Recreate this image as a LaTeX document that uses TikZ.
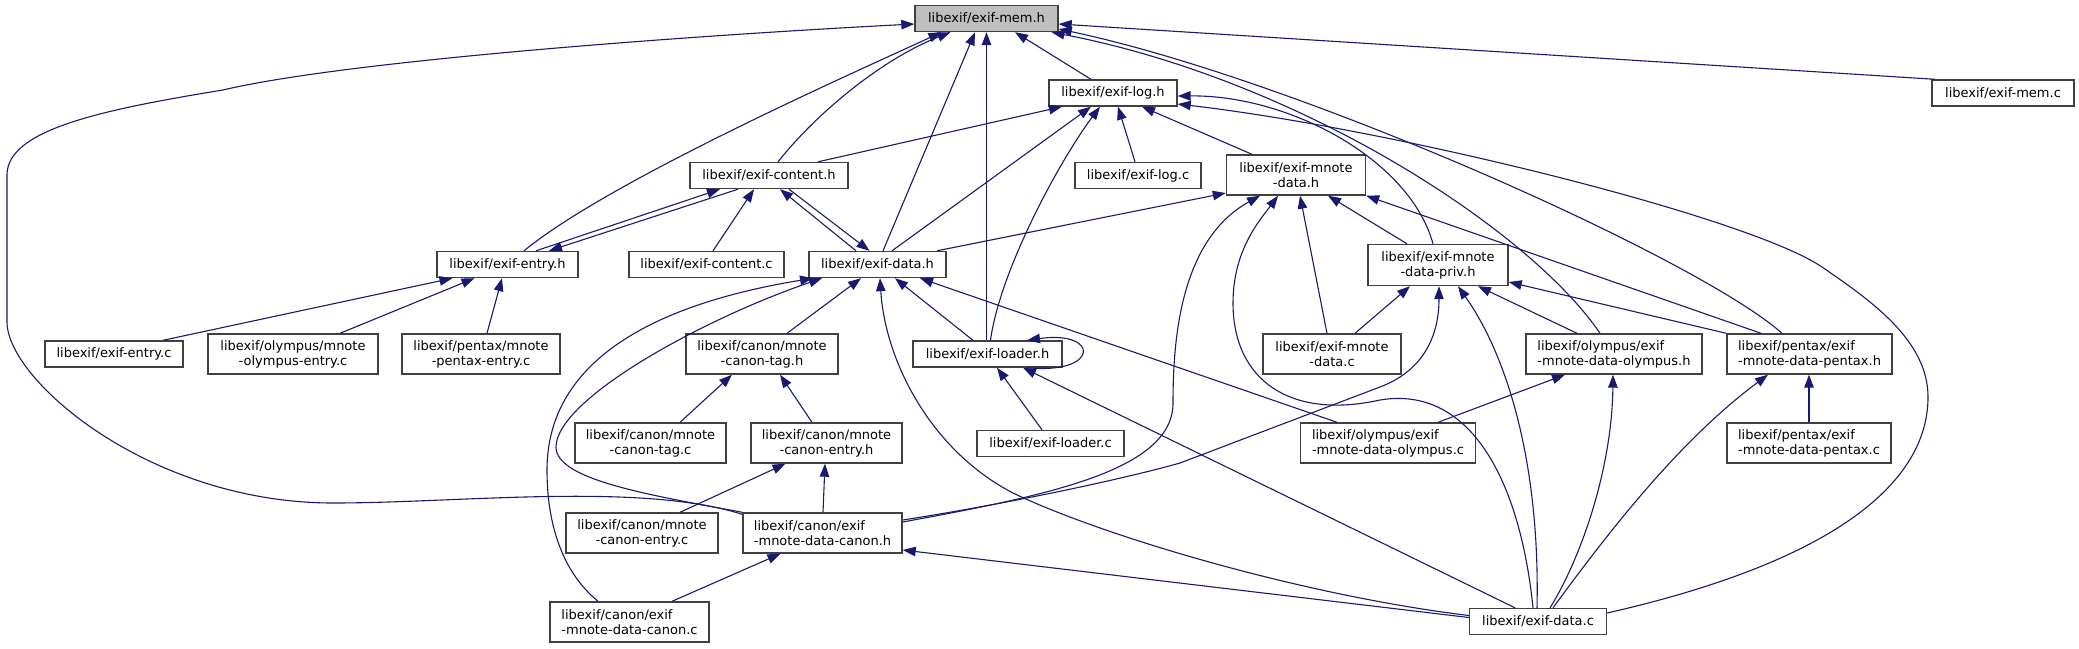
\documentclass[tikz,border=0pt]{standalone}
\usepackage{fontspec}
\setmainfont{DejaVu Sans}
\usetikzlibrary{arrows.meta}
\definecolor{edgeblue}{HTML}{191970}
\definecolor{boxgray}{HTML}{404040}
\definecolor{rootgray}{HTML}{BFBFBF}
\begin{document}
\begin{tikzpicture}[x=1pt,y=-1pt,
  box/.style={draw=boxgray, line width=1.4pt, fill=white, inner sep=0pt, align=center,
    font=\fontsize{13}{15}\selectfont},
  edge/.style={draw=edgeblue, line width=1.1pt, -{Triangle[length=13pt,width=9.5pt]}}]
\useasboundingbox[fill=white] (0,0) rectangle (2079,648);
% nodes
\node[box,fill=rootgray,minimum width=143pt,minimum height=26pt] (mem) at (986.5,18.5) {libexif/exif-mem.h};
\node[box,minimum width=128pt,minimum height=26pt] (log) at (1113,93) {libexif/exif-log.h};
\node[box,minimum width=142pt,minimum height=26pt] (memc) at (2003,93) {libexif/exif-mem.c};
\node[box,minimum width=158pt,minimum height=26pt] (content) at (769,175.5) {libexif/exif-content.h};
\node[box,minimum width=126pt,minimum height=26pt] (logc) at (1138,175.5) {libexif/exif-log.c};
\node[box,minimum width=139pt,minimum height=40pt] (mnote) at (1296,175) {libexif/exif-mnote\\-data.h};
\node[box,minimum width=141pt,minimum height=26pt] (entry) at (507.5,264.5) {libexif/exif-entry.h};
\node[box,minimum width=155pt,minimum height=26pt] (contentc) at (706.5,264.5) {libexif/exif-content.c};
\node[box,minimum width=137pt,minimum height=26pt] (datah) at (877.5,264.5) {libexif/exif-data.h};
\node[box,minimum width=140pt,minimum height=41pt] (priv) at (1438,265) {libexif/exif-mnote\\-data-priv.h};
\node[box,minimum width=138pt,minimum height=26pt] (entryc) at (114,354) {libexif/exif-entry.c};
\node[box,minimum width=170pt,minimum height=40pt] (olyentry) at (293,354) {libexif/olympus/mnote\\-olympus-entry.c};
\node[box,minimum width=158pt,minimum height=40pt] (pentaxentry) at (481,354) {libexif/pentax/mnote\\-pentax-entry.c};
\node[box,minimum width=152pt,minimum height=40pt] (canontagh) at (762,354) {libexif/canon/mnote\\-canon-tag.h};
\node[box,minimum width=149pt,minimum height=26pt] (loaderh) at (987.5,354) {libexif/exif-loader.h};
\node[box,minimum width=138pt,minimum height=40pt] (mnotec) at (1332,354) {libexif/exif-mnote\\-data.c};
\node[box,align=left,minimum width=176pt,minimum height=40pt] (olyh) at (1614,354) {libexif/olympus/exif\\-mnote-data-olympus.h};
\node[box,align=left,minimum width=165pt,minimum height=40pt] (pentaxh) at (1809.5,354) {libexif/pentax/exif\\-mnote-data-pentax.h};
\node[box,minimum width=151pt,minimum height=40pt] (canontagc) at (650.5,443) {libexif/canon/mnote\\-canon-tag.c};
\node[box,minimum width=151pt,minimum height=40pt] (canonentryh) at (826.5,443) {libexif/canon/mnote\\-canon-entry.h};
\node[box,minimum width=147pt,minimum height=26pt] (loaderc) at (1050.5,443.5) {libexif/exif-loader.c};
\node[box,align=left,minimum width=175pt,minimum height=40pt] (olyc) at (1388,443) {libexif/olympus/exif\\-mnote-data-olympus.c};
\node[box,align=left,minimum width=164pt,minimum height=40pt] (pentaxc) at (1809,443) {libexif/pentax/exif\\-mnote-data-pentax.c};
\node[box,minimum width=152pt,minimum height=40pt] (canonentryc) at (642,533) {libexif/canon/mnote\\-canon-entry.c};
\node[box,align=left,minimum width=159pt,minimum height=40pt] (canonh) at (822.5,533) {libexif/canon/exif\\-mnote-data-canon.h};
\node[box,align=left,minimum width=159pt,minimum height=40pt] (canonc) at (629.5,622) {libexif/canon/exif\\-mnote-data-canon.c};
\node[box,minimum width=137pt,minimum height=26pt] (datac) at (1538,621.5) {libexif/exif-data.c};
% edges into exif-mem.h
\draw[edge] ([xshift=16.5pt]entry.north) .. controls (610,180) and (860,70) .. ([xshift=-45pt]mem.south);
\draw[edge] ([xshift=9pt]content.north) .. controls (815,115) and (880,60) .. ([xshift=-36pt]mem.south);
\draw[edge] ([xshift=5.5pt]datah.north) -- ([xshift=-11.5pt]mem.south);
\draw[edge] ([xshift=-1pt]loaderh.north) -- (mem.south);
\draw[edge] ([xshift=-22pt]log.north) -- ([xshift=28.5pt]mem.south);
\draw[edge] ([xshift=-68pt]memc.north) -- ([yshift=-5.5pt]mem.east);
\draw[edge] ([xshift=-27.5pt]pentaxh.north) .. controls (1700,260) and (1300,80) .. ([yshift=-10.5pt]mem.east);
\draw[edge] ([xshift=-14pt]olyh.north) .. controls (1530,230) and (1300,80) .. ([xshift=65pt]mem.south);
\draw[edge] ([yshift=-2pt]canonh.north west) .. controls (640,482) and (460,503) .. (333,503)
  .. controls (150,503) and (7,380) .. (7,322) -- (7,175)
  .. controls (7,130) and (100,110) .. (223,90)
  .. controls (350,60) and (700,35) .. ([yshift=-5.5pt]mem.west);
% edges into exif-log.h
\draw[edge] ([xshift=49pt]content.north) -- ([xshift=-51pt]log.south);
\draw[edge] ([xshift=14.5pt]datah.north) -- ([xshift=-22pt]log.south);
\draw[edge] ([xshift=3pt]loaderh.north) .. controls (1000,270) and (1060,160) .. ([xshift=-13pt]log.south);
\draw[edge] ([xshift=-3pt]logc.north) -- ([xshift=5pt]log.south);
\draw[edge] ([xshift=-44pt]mnote.north) -- ([xshift=29pt]log.south);
\draw[edge] ([xshift=-5pt]priv.north) .. controls (1410,160) and (1290,95) .. ([yshift=-3pt]log.east);
\draw[edge] ([yshift=8.5pt]datac.east) .. controls (1840,560) and (1928,480) .. (1928,397)
  .. controls (1928,340) and (1870,300) .. (1822,267)
  .. controls (1750,218) and (1400,130) .. ([yshift=-11pt]log.east);
% edges into exif-content.h / exif-entry.h
\draw[edge] ([xshift=28.5pt]entry.north) -- ([xshift=-49pt]content.south);
\draw[edge] ([xshift=-31pt]content.south) -- ([xshift=41.5pt]entry.north);
\draw[edge] ([xshift=-21.5pt]datah.north) -- ([xshift=11pt]content.south);
\draw[edge] ([xshift=20pt]content.south) -- ([xshift=-8pt]datah.north);
\draw[edge] ([xshift=6.5pt]contentc.north) -- ([xshift=-15pt]content.south);
\draw[edge] ([xshift=49pt]entryc.north) -- ([xshift=-55pt]entry.south);
\draw[edge] ([xshift=47pt]olyentry.north) -- ([xshift=-33pt]entry.south);
\draw[edge] ([xshift=6pt]pentaxentry.north) -- ([xshift=-5.5pt]entry.south);
% edges into exif-data.h
\draw[edge] ([xshift=25pt]canontagh.north) -- ([xshift=-16.5pt]datah.south);
\draw[edge] ([xshift=-14.5pt]loaderh.north) -- ([xshift=17.5pt]datah.south);
\draw[edge] ([xshift=-51pt]olyc.north) -- ([xshift=42.5pt]datah.south);
\draw[edge] ([yshift=6pt]datac.west) .. controls (1300,595) and (1100,535) .. (1013,493)
  .. controls (930,450) and (885,360) .. ([xshift=2.5pt]datah.south);
\draw[edge] (canonh.north west) .. controls (650,495) and (556,480) .. (556,447)
  .. controls (556,400) and (700,320) .. ([xshift=-55.5pt]datah.south);
\draw[edge] ([xshift=-31.5pt]canonc.north) .. controls (560,570) and (547,520) .. (547,470)
  .. controls (547,380) and (620,310) .. ([xshift=-64.5pt]datah.south);
% edges into exif-mnote-data.h
\draw[edge] ([xshift=59.5pt]datah.north) -- ([yshift=-18pt]mnote.west);
\draw[edge] ([yshift=11pt]canonh.east) .. controls (1050,495) and (1173,470) .. (1173,403)
  .. controls (1173,340) and (1180,240) .. ([xshift=-36pt]mnote.south);
\draw[edge] ([xshift=-5pt]datac.north) .. controls (1520,480) and (1470,385) .. (1380,400)
  .. controls (1290,420) and (1233,380) .. (1233,303)
  .. controls (1233,250) and (1260,220) .. ([xshift=-18pt]mnote.south);
\draw[edge] ([xshift=-5pt]mnotec.north) -- ([xshift=4pt]mnote.south);
\draw[edge] ([xshift=-31pt]priv.north) -- ([xshift=32pt]mnote.south);
\draw[edge] ([xshift=-48.5pt]pentaxh.north) -- (mnote.south east);
% edges into exif-mnote-data-priv.h
\draw[edge] ([xshift=23pt]mnotec.north) -- ([xshift=-28pt]priv.south);
\draw[edge] ([yshift=13pt]canonh.east) .. controls (1000,505) and (1120,480) .. (1180,463)
  -- (1380,387) .. controls (1420,372) and (1439,340) .. ([xshift=1pt]priv.south);
\draw[edge] ([xshift=-1pt]datac.north) .. controls (1540,470) and (1510,360) .. ([xshift=20pt]priv.south);
\draw[edge] ([xshift=-37pt]olyh.north) -- ([xshift=40pt]priv.south);
\draw[edge] (pentaxh.north west) -- ([yshift=-17pt]priv.east);
% edges into exif-loader.h
\draw[edge] ([xshift=-8.5pt]loaderc.north) -- ([xshift=9.5pt]loaderh.south);
\draw[edge] ([xshift=-23pt]datac.north) -- ([xshift=35.5pt]loaderh.south);
\draw[edge] ([xshift=39.5pt]loaderh.south) .. controls (1100,375) and (1100,330) .. ([xshift=39.5pt]loaderh.north);
% olympus / pentax headers
\draw[edge] ([xshift=50pt]olyc.north) -- ([xshift=-49pt]olyh.south);
\draw[edge] ([xshift=12pt]datac.north) .. controls (1580,560) and (1612,470) .. ([xshift=-1pt]olyh.south);
\draw[edge] ([xshift=15pt]datac.north) .. controls (1610,530) and (1680,440) .. ([xshift=-41.5pt]pentaxh.south);
\draw[edge] (pentaxc.north) -- ([xshift=-0.5pt]pentaxh.south);
% canon headers
\draw[edge] ([xshift=29.5pt]canontagc.north) -- ([xshift=-30pt]canontagh.south);
\draw[edge] ([xshift=-14.5pt]canonentryh.north) -- ([xshift=18pt]canontagh.south);
\draw[edge] ([xshift=38pt]canonentryc.north) -- ([xshift=-41pt]canonentryh.south);
\draw[edge] ([xshift=0.5pt]canonh.north) -- ([xshift=-1.5pt]canonentryh.south);
\draw[edge] ([xshift=42.5pt]canonc.north) -- ([xshift=-42pt]canonh.south);
\draw[edge] ([yshift=4pt]datac.west) -- ([yshift=-17pt]canonh.east);
\end{tikzpicture}
\end{document}
